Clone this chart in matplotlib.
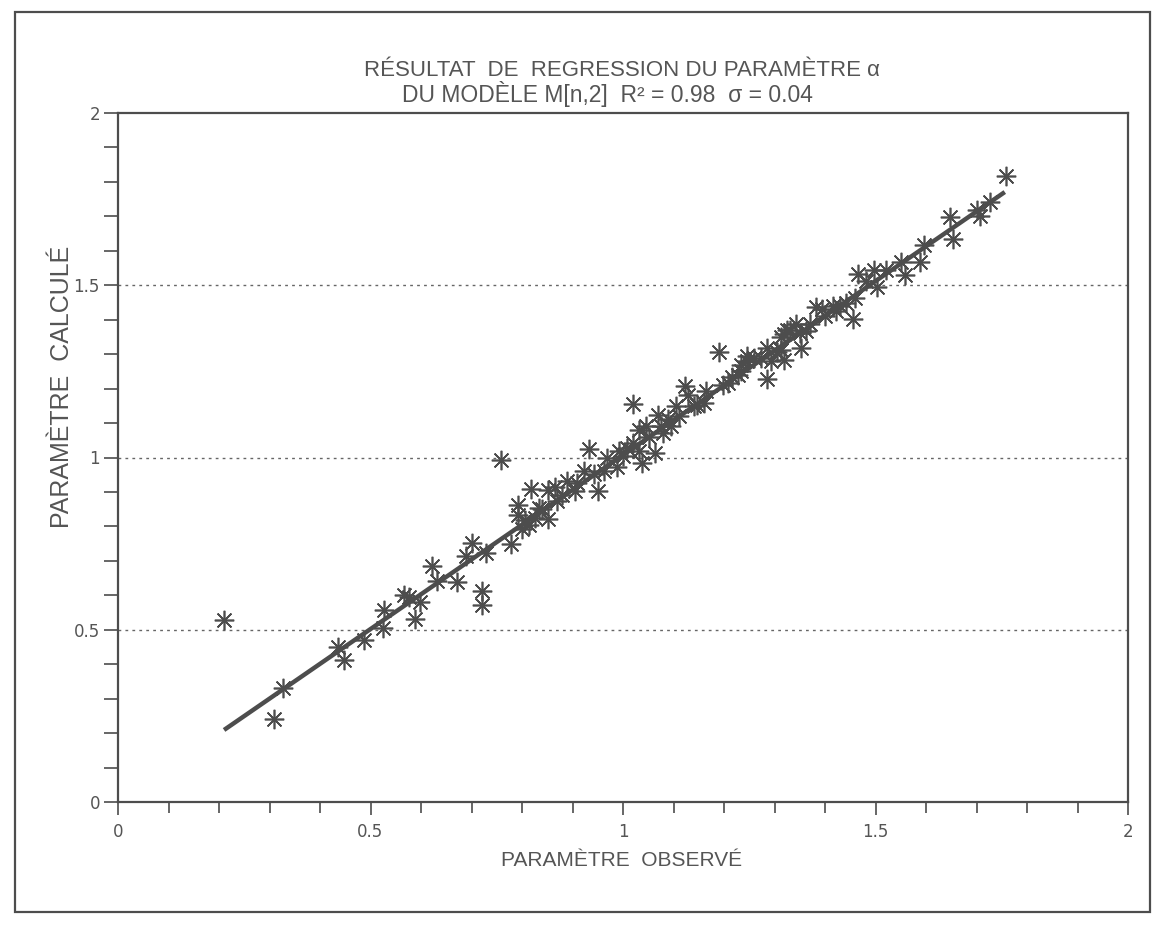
import matplotlib
matplotlib.use("Agg")
import matplotlib.pyplot as plt
from matplotlib.patches import Rectangle

# ---- data ----
observed = [0.210, 0.308, 0.327, 0.435, 0.448, 0.488, 0.525, 0.526, 0.566, 0.576,
            0.589, 0.599, 0.621, 0.632, 0.671, 0.690, 0.700, 0.720, 0.721, 0.728,
            0.758, 0.779, 0.792, 0.793, 0.800, 0.813, 0.818, 0.825, 0.834, 0.851,
            0.852, 0.865, 0.869, 0.890, 0.904, 0.908, 0.923, 0.932, 0.943, 0.950,
            0.962, 0.968, 0.988, 0.992, 1.007, 1.019, 1.020, 1.032, 1.032, 1.037,
            1.045, 1.052, 1.063, 1.069, 1.080, 1.090, 1.096, 1.104, 1.110, 1.123,
            1.129, 1.146, 1.161, 1.165, 1.191, 1.198, 1.207, 1.227, 1.234, 1.234,
            1.246, 1.246, 1.260, 1.273, 1.285, 1.286, 1.293, 1.304, 1.313, 1.312,
            1.319, 1.318, 1.324, 1.331, 1.343, 1.352, 1.363, 1.371, 1.382, 1.395,
            1.415, 1.422, 1.441, 1.455, 1.460, 1.465, 1.481, 1.498, 1.503, 1.521,
            1.551, 1.558, 1.588, 1.597, 1.648, 1.653, 1.701, 1.707, 1.726, 1.758,
            0.805, 0.840, 0.880, 1.000, 1.075, 1.140, 1.215, 1.350, 1.400, 1.430]
calculated = [0.528, 0.241, 0.331, 0.449, 0.411, 0.470, 0.505, 0.558, 0.602, 0.594,
              0.531, 0.580, 0.685, 0.642, 0.640, 0.713, 0.751, 0.612, 0.572, 0.722,
              0.993, 0.750, 0.861, 0.832, 0.792, 0.804, 0.908, 0.823, 0.853, 0.906,
              0.822, 0.915, 0.874, 0.931, 0.902, 0.925, 0.961, 1.024, 0.951, 0.904,
              0.962, 0.999, 0.971, 1.018, 1.028, 1.154, 1.042, 1.018, 1.080, 0.985,
              1.091, 1.060, 1.014, 1.124, 1.072, 1.111, 1.091, 1.149, 1.120, 1.208,
              1.182, 1.152, 1.158, 1.193, 1.307, 1.210, 1.215, 1.239, 1.269, 1.251,
              1.280, 1.295, 1.289, 1.290, 1.319, 1.229, 1.281, 1.307, 1.311, 1.349,
              1.282, 1.358, 1.369, 1.369, 1.388, 1.317, 1.368, 1.388, 1.438, 1.432,
              1.439, 1.425, 1.448, 1.402, 1.463, 1.533, 1.512, 1.543, 1.494, 1.543,
              1.568, 1.530, 1.568, 1.618, 1.698, 1.634, 1.717, 1.700, 1.743, 1.817,
              0.820, 0.850, 0.890, 1.005, 1.090, 1.150, 1.235, 1.360, 1.410, 1.440]

fit_x_range = [0.210, 1.756]
fit_slope = 1.01
fit_intercept = -0.003

x_ticks = [0, 0.5, 1, 1.5, 2]
x_tick_labels = ["0", "0.5", "1", "1.5", "2"]
y_ticks = [0, 0.5, 1, 1.5, 2]
y_tick_labels = ["0", "0.5", "1", "1.5", "2"]
grid_levels = [0.5, 1.0, 1.5]

title_line1 = "RÉSULTAT  DE  REGRESSION DU PARAMÈTRE α"
title_line2 = "DU MODÈLE M[n,2]  R² = 0.98  σ = 0.04"
x_label = "PARAMÈTRE  OBSERVÉ"
y_label = "PARAMÈTRE  CALCULÉ"

# ---- drawing ----
ink = "#4d4d4d"
txt = "#555555"
W, H = 1160, 926
fig = plt.figure(figsize=(W / 100, H / 100), dpi=100)
fig.patch.set_facecolor("white")

ax = fig.add_axes([118 / W, 1 - 802 / H, (1128 - 118) / W, (802 - 113) / H])
ax.set_xlim(0, 2)
ax.set_ylim(0, 2)

for g in grid_levels:
    ax.axhline(g, color="#666666", lw=1.0, ls=(0, (2, 3)), zorder=1)

fx = fit_x_range
fy = [fit_slope * v + fit_intercept for v in fx]
ax.plot(fx, fy, color=ink, lw=3.2, solid_capstyle="butt", zorder=2)

ax.plot(observed, calculated, ls="none", marker=(8, 2, 0), ms=14,
        mew=1.2, mec=ink, color=ink, zorder=3)

for s in ax.spines.values():
    s.set_color(ink)
    s.set_linewidth(1.6)

ax.set_xticks(x_ticks)
ax.set_xticklabels(x_tick_labels)
ax.set_yticks(y_ticks)
ax.set_yticklabels(y_tick_labels)
ax.set_xticks([i / 10 for i in range(21)], minor=True)
ax.set_yticks([i / 10 for i in range(21)], minor=True)
ax.tick_params(axis="both", which="both", direction="out", color=ink,
               width=1.2, labelcolor=txt, labelsize=12)
ax.tick_params(axis="x", which="major", length=9, pad=6)
ax.tick_params(axis="x", which="minor", length=8)
ax.tick_params(axis="y", which="major", length=10, pad=3)
ax.tick_params(axis="y", which="minor", length=10)
for lab in ax.get_xticklabels() + ax.get_yticklabels():
    lab.set_family(["DejaVu Sans"])

fig.text(622 / W, 1 - 70 / H, title_line1, ha="center", va="center",
         fontsize=16, color=txt, family=["Liberation Sans", "DejaVu Sans"])
fig.text(607 / W, 1 - 94 / H, title_line2, ha="center", va="center",
         fontsize=16.5, color=txt, family=["Liberation Sans", "DejaVu Sans"])
fig.text(622 / W, 1 - 860 / H, x_label, ha="center", va="center",
         fontsize=15, color=txt, family=["Liberation Sans Narrow", "Liberation Sans", "DejaVu Sans"])
fig.text(62 / W, 1 - 387 / H, y_label, ha="center", va="center", rotation=90,
         fontsize=18, color=txt, family=["Liberation Sans", "DejaVu Sans"])

fig.add_artist(Rectangle((15 / W, 1 - 912 / H), (1150 - 15) / W, (912 - 12) / H,
                         transform=fig.transFigure, fill=False,
                         edgecolor=ink, lw=1.6))

fig.savefig("out.png", dpi=100, facecolor="white")
